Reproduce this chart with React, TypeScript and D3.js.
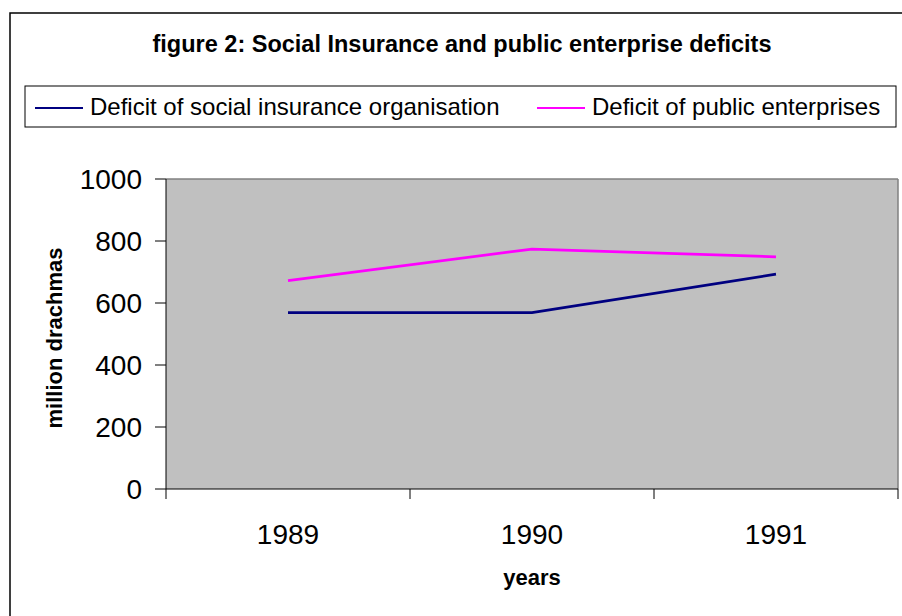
import React from "react";
import * as d3 from "d3";

const years = ["1989", "1990", "1991"];
const socialInsurance = [569, 569, 693];
const publicEnterprises = [672, 774, 749];
const yTicks = [0, 200, 400, 600, 800, 1000];
const seriesNames = ["Deficit of social insurance organisation", "Deficit of public enterprises"];
const seriesColors = ["#000080", "#FF00FF"];

const W = 902, H = 616;
const FONT = "'Liberation Sans', Arial, sans-serif";

export default function App() {
  const left = 166, right = 898, top = 179, bottom = 489;
  const x = d3.scaleBand<string>().domain(years).range([left, right]);
  const y = d3.scaleLinear().domain([0, 1000]).range([bottom, top]);
  const line = d3.line<number>()
    .x((_, i) => (x(years[i]) as number) + x.bandwidth() / 2)
    .y((d) => y(d));
  const allSeries = [socialInsurance, publicEnterprises];
  const boundaries = [...years.map((c) => x(c) as number), right];
  const legendX = [35, 537];

  return (
    <div style={{ position: "absolute", left: 0, top: 0 }}>
      <svg width={W} height={H} style={{ display: "block", fontFamily: FONT }}>
        <rect x={0} y={0} width={W} height={H} fill="#fff" />
        <rect x={10} y={13} width={W + 20} height={H + 20} fill="#fff" stroke="#000" strokeWidth={1.5} />
        <text x={462} y={52} textAnchor="middle" fontWeight="bold" fontSize={23.5}>
          figure 2: Social Insurance and public enterprise deficits
        </text>
        {/* legend */}
        <rect x={25} y={86} width={871} height={41} fill="#fff" stroke="#000" strokeWidth={1} />
        {[0, 1].map((i) => (
          <g key={i}>
            <line x1={legendX[i]} x2={legendX[i] + 48} y1={108} y2={108} stroke={seriesColors[i]} strokeWidth={2} />
            <text x={legendX[i] + 55} y={115} fontSize={24}>{seriesNames[i]}</text>
          </g>
        ))}
        {/* plot area */}
        <rect x={left} y={top} width={right - left} height={bottom - top} fill="#C0C0C0" />
        <line x1={left} x2={right} y1={top} y2={top} stroke="#808080" strokeWidth={1.5} />
        <line x1={right} x2={right} y1={top} y2={bottom} stroke="#808080" strokeWidth={1.5} />
        {allSeries.map((s, i) => (
          <path key={i} d={line(s) || ""} fill="none" stroke={seriesColors[i]} strokeWidth={2.7} />
        ))}
        {/* y axis */}
        <line x1={left} x2={left} y1={top} y2={bottom} stroke="#000" strokeWidth={1} />
        {yTicks.map((t) => (
          <g key={t}>
            <line x1={155} x2={left} y1={y(t)} y2={y(t)} stroke="#000" />
            <text x={142} y={y(t)} dy="0.36em" textAnchor="end" fontSize={28}>{t}</text>
          </g>
        ))}
        {/* x axis */}
        <line x1={left} x2={right} y1={bottom} y2={bottom} stroke="#000" strokeWidth={1} />
        {boundaries.map((b, i) => (
          <line key={i} x1={b} x2={b} y1={bottom} y2={bottom + 10} stroke="#000" />
        ))}
        {years.map((c) => (
          <text key={c} x={(x(c) as number) + x.bandwidth() / 2} y={544} textAnchor="middle" fontSize={28}>{c}</text>
        ))}
        <text x={532} y={585} textAnchor="middle" fontWeight="bold" fontSize={22}>years</text>
        <text transform={`translate(62,338) rotate(-90)`} textAnchor="middle" fontWeight="bold" fontSize={22}>million drachmas</text>
      </svg>
    </div>
  );
}
